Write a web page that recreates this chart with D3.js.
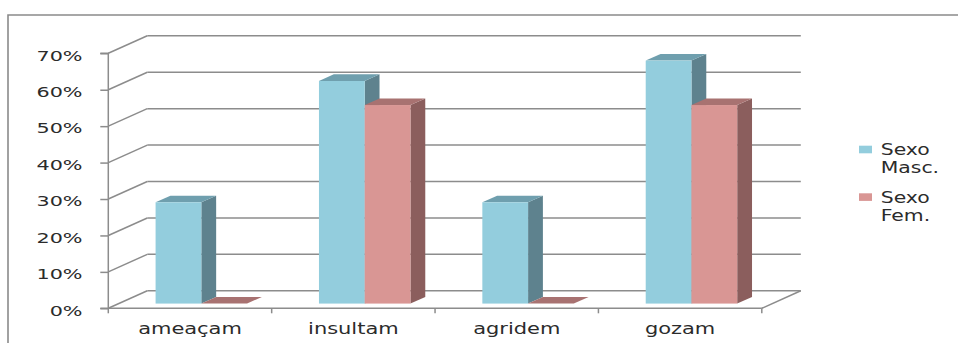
<!DOCTYPE html>
<html>
<head>
<meta charset="utf-8">
<script src="https://cdn.jsdelivr.net/npm/d3@7"></script>
<style>
  html, body { margin: 0; padding: 0; background: #fff; }
  svg { display: block; }
  text { font-family: "DejaVu Sans", Verdana, sans-serif; fill: #2b2b2b; }
</style>
</head>
<body>
<svg id="chart" width="958" height="343"></svg>
<script>
// ---- data ----
const categories = ["ameaçam", "insultam", "agridem", "gozam"];
const seriesNames = ["Sexo Masc.", "Sexo Fem."];
const masc = [27.8, 61.1, 27.8, 66.7];
const fem = [0, 54.5, 0, 54.5];
const yTicks = [0, 10, 20, 30, 40, 50, 60, 70];
const legendLines = [["Sexo", "Masc."], ["Sexo", "Fem."]];

// ---- styles ----
const colors = [
  { front: "#93cddd", side: "#5e828e", top: "#6f9fae" },
  { front: "#d99694", side: "#8b5e5d", top: "#a87271" }
];
const gridColor = "#8c8c8c";

const svg = d3.select("#chart");

// outer border (open on right/bottom as in reference)
svg.append("path")
  .attr("d", "M8,343 L8,15 L958,15")
  .attr("fill", "none").attr("stroke", "#8a8a8a").attr("stroke-width", 1.6);

// scales
const left = 108.3, right = 761.8, y0px = 308.3, y70px = 53.3;
const y = d3.scaleLinear().domain([0, 70]).range([y0px, y70px]);
const x = d3.scaleBand().domain(categories).range([left, right]).padding(0);
const bw = x.bandwidth();
const xs = d3.scaleBand().domain(seriesNames).range([0.225 * bw, 0.785 * bw]).padding(0);

// depth (oblique projection)
const DX = 39, DY = -17.5;
const off = f => [DX * f, DY * f];

const g = svg.append("g");

// back wall gridlines and left wall diagonals
yTicks.forEach(t => {
  const yy = y(t);
  g.append("line")
    .attr("x1", left + DX).attr("y1", yy + DY)
    .attr("x2", right + DX).attr("y2", yy + DY)
    .attr("stroke", gridColor).attr("stroke-width", 1.5);
  g.append("line")
    .attr("x1", left).attr("y1", yy)
    .attr("x2", left + DX).attr("y2", yy + DY)
    .attr("stroke", gridColor).attr("stroke-width", 1.5);
});
// floor right edge
g.append("line")
  .attr("x1", right).attr("y1", y(0))
  .attr("x2", right + DX).attr("y2", y(0) + DY)
  .attr("stroke", gridColor).attr("stroke-width", 1.5);

// y axis
const yAxis = d3.axisLeft(y).tickValues(yTicks).tickSize(8).tickPadding(0)
  .tickFormat(d => d + "%");
const yg = svg.append("g").attr("transform", `translate(${left},0)`).call(yAxis);
yg.select(".domain").attr("stroke", gridColor).attr("stroke-width", 1.5)
  .attr("d", `M-8,${y70px}H0V${y0px}H-8`);
yg.selectAll(".tick line").attr("stroke", gridColor).attr("stroke-width", 1.5);
yg.selectAll(".tick text")
  .attr("x", 0).attr("dy", "0.48em")
  .attr("font-size", 14)
  .attr("font-family", "DejaVu Sans, Verdana, sans-serif")
  .attr("fill", "#2b2b2b")
  .attr("text-anchor", "end")
  .attr("transform", "translate(-25.8,0) scale(1.48,1)");

// x axis line and boundary ticks
svg.append("line")
  .attr("x1", left).attr("y1", y0px).attr("x2", right).attr("y2", y0px)
  .attr("stroke", gridColor).attr("stroke-width", 1.5);
const boundaries = categories.map(c => x(c) + bw).concat([left]);
svg.selectAll(".xtick").data(boundaries).enter().append("line")
  .attr("x1", d => d).attr("x2", d => d)
  .attr("y1", y0px).attr("y2", y0px + 5)
  .attr("stroke", gridColor).attr("stroke-width", 1.5);

// category labels
svg.selectAll(".xlab").data(categories).enter().append("text")
  .attr("text-anchor", "middle")
  .attr("font-size", 16)
  .attr("transform", d => `translate(${x(d) + bw / 2},334) scale(1.31,1)`)
  .text(d => d);

// bars
const f1 = 0.27, f2 = 0.65;
const [fx, fy] = off(f1);
const [bx, by] = off(f2);
const seriesVals = [masc, fem];
const bars = svg.append("g");
categories.forEach((c, i) => {
  seriesNames.forEach((s, k) => {
    const v = seriesVals[k][i];
    const xl = x(c) + xs(s) + fx;
    const xr = xl + xs.bandwidth();
    const yb = y(0) + fy;
    const yt = y(v) + fy;
    const dx = bx - fx, dy = by - fy;
    const col = colors[k];
    // side
    bars.append("path")
      .attr("d", `M${xr},${yb}L${xr + dx},${yb + dy}L${xr + dx},${yt + dy}L${xr},${yt}Z`)
      .attr("fill", col.side);
    // top
    bars.append("path")
      .attr("d", `M${xl},${yt}L${xl + dx},${yt + dy}L${xr + dx},${yt + dy}L${xr},${yt}Z`)
      .attr("fill", col.top);
    // front
    if (yb - yt > 0.01) {
      bars.append("rect")
        .attr("x", xl).attr("y", yt)
        .attr("width", xr - xl).attr("height", yb - yt)
        .attr("fill", col.front);
    }
  });
});

// legend
const lg = svg.append("g");
const legendRows = [145.7, 193.3];
legendLines.forEach((lines, k) => {
  lg.append("rect")
    .attr("x", 859).attr("y", legendRows[k])
    .attr("width", 13).attr("height", 7.6)
    .attr("fill", colors[k].front);
  lines.forEach((t, j) => {
    lg.append("text")
      .attr("font-size", 15)
      .attr("transform", `translate(880.7,${legendRows[k] + 9.5 + j * 18}) scale(1.36,1)`)
      .text(t);
  });
});
</script>
</body>
</html>
